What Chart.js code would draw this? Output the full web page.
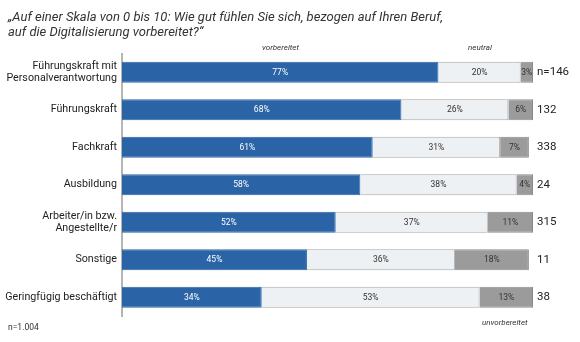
<!DOCTYPE html>
<html>
<head>
<meta charset="utf-8">
<script src="https://cdn.jsdelivr.net/npm/chart.js@4"></script>
<style>
  html, body { margin: 0; padding: 0; background: #fff; }
  #wrap { position: relative; width: 580px; height: 342px; font-family: Roboto, sans-serif; color: #222; }
  #wrap canvas { position: absolute; left: 0; top: 0; }
  .note { position: absolute; font-style: italic; font-size: 8px; color: #333; white-space: nowrap; }
  #title { position: absolute; left: 8px; top: 10px; font-size: 13px; line-height: 14.5px; font-style: italic; color: #333; }
  #total { position: absolute; left: 8px; top: 322px; font-size: 8.5px; color: #333; }
</style>
</head>
<body>
<div id="wrap">
  <canvas id="myChart" width="580" height="342"></canvas>
  <div id="title">„Auf einer Skala von 0 bis 10: Wie gut fühlen Sie sich, bezogen auf Ihren Beruf,<br>auf die Digitalisierung vorbereitet?“</div>
  <div class="note" style="left:262px; top:43px;">vorbereitet</div>
  <div class="note" style="left:468px; top:43px;">neutral</div>
  <div class="note" style="left:482px; top:318px;">unvorbereitet</div>
  <div id="total">n=1.004</div>
</div>
<script>
var categories = [
  ["Führungskraft mit", "Personalverantwortung"],
  "Führungskraft",
  "Fachkraft",
  "Ausbildung",
  ["Arbeiter/in bzw.", "Angestellte/r"],
  "Sonstige",
  "Geringfügig beschäftigt"
];
var vorbereitet = [77, 68, 61, 58, 52, 45, 34];
var neutral = [20, 26, 31, 38, 37, 36, 53];
var unvorbereitet = [3, 6, 7, 4, 11, 18, 13];
var nLabels = ["n=146", "132", "338", "24", "315", "11", "38"];

var segmentLabels = {
  id: 'segmentLabels',
  afterDatasetsDraw: function(chart) {
    var ctx = chart.ctx;
    ctx.save();
    ctx.font = '8.5px Roboto, sans-serif';
    ctx.textAlign = 'center';
    ctx.textBaseline = 'middle';
    chart.data.datasets.forEach(function(ds, i) {
      var meta = chart.getDatasetMeta(i);
      ctx.fillStyle = i === 0 ? '#ffffff' : '#333333';
      meta.data.forEach(function(bar, j) {
        var cx = (bar.x + bar.base) / 2;
        ctx.fillText(ds.data[j] + '%', cx, bar.y + 0.5);
      });
    });
    ctx.restore();
  }
};

var ctx = document.getElementById('myChart').getContext('2d');
var myChart = new Chart(ctx, {
  type: 'bar',
  data: {
    labels: categories,
    datasets: [
      { label: 'vorbereitet', data: vorbereitet, backgroundColor: '#2b64a6', borderColor: '#2b64a6', borderWidth: 1 },
      { label: 'neutral', data: neutral, backgroundColor: '#eef1f3', borderColor: '#a8a8a8', borderWidth: 1 },
      { label: 'unvorbereitet', data: unvorbereitet, backgroundColor: '#9b9b9b', borderColor: '#8a8a8a', borderWidth: 1 }
    ]
  },
  options: {
    indexAxis: 'y',
    responsive: false,
    animation: false,
    layout: { padding: { top: 53.5, bottom: 26, left: 0, right: 0 } },
    datasets: { bar: { categoryPercentage: 1, barPercentage: 0.56 } },
    plugins: { legend: { display: false }, tooltip: { enabled: false } },
    scales: {
      x: { stacked: true, min: 0, max: 100, display: false },
      y: {
        stacked: true,
        grid: { display: false, drawTicks: false },
        border: { display: true, color: '#b5b5b5', width: 2 },
        ticks: { color: '#222', font: { family: 'Roboto', size: 10.7 }, padding: 5, autoSkip: false },
        afterFit: function(scale) { scale.width = 122; }
      },
      y2: {
        type: 'category',
        labels: nLabels,
        position: 'right',
        grid: { display: false, drawTicks: false },
        border: { display: false },
        ticks: { color: '#222', font: { family: 'Roboto', size: 11.5 }, padding: 4, autoSkip: false },
        afterFit: function(scale) { scale.width = 47; }
      }
    }
  },
  plugins: [segmentLabels]
});
</script>
</body>
</html>
